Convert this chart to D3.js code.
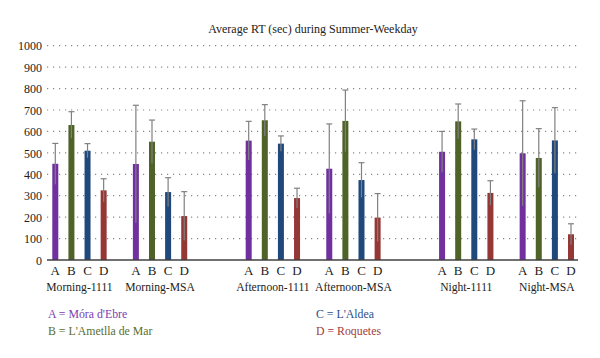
<!DOCTYPE html>
<html><head><meta charset="utf-8">
<script src="https://cdn.jsdelivr.net/npm/d3@7"></script>
<style>body{margin:0;background:#fff}svg{display:block}</style>
</head><body>
<svg id="c" width="600" height="358"></svg>
<script>
const title = "Average RT (sec) during Summer-Weekday";
const groups = ["Morning-1111","Morning-MSA","Afternoon-1111","Afternoon-MSA","Night-1111","Night-MSA"];
const series = ["A","B","C","D"];
const seriesNames = ["Móra d'Ebre","L'Ametlla de Mar","L'Aldea","Roquetes"];
const valuesA = [449, 448, 557, 426, 505, 498];
const valuesB = [630, 552, 652, 649, 647, 476];
const valuesC = [510, 317, 543, 373, 563, 558];
const valuesD = [325, 205, 289, 198, 313, 120];
const errA = [95, 274, 90, 209, 95, 245];
const errB = [62, 101, 73, 144, 81, 137];
const errC = [33, 67, 36, 81, 48, 153];
const errD = [54, 114, 46, 112, 57, 49];
const yTicks = [0,100,200,300,400,500,600,700,800,900,1000];

const values = [valuesA, valuesB, valuesC, valuesD];
const errs = [errA, errB, errC, errD];
const colors = ["#7030a0","#4f6228","#1f497d","#953735"];
const textColors = ["#7a3db0","#5a6e2e","#2a4f8a","#a33a3a"];
const FONT = '"Liberation Serif"';

const svg = d3.select("#c");

// layout: groups paired by period, unit = one bar slot
const slot = (gi, si) => Math.floor(gi/2)*12 + (gi%2)*5 + (si - 1.5);
const x = d3.scaleLinear().domain([-1.5, 29 + 1.5]).range([55.3, 571]);
const y = d3.scaleLinear().domain([0, 1000]).range([260, 45.7]);
const bw = 6;
const axL = 47, axR = 578;

svg.append("text").attr("x", 313).attr("y", 33).attr("text-anchor","middle")
  .style("font-family", FONT).attr("font-size", 12).attr("fill","#222").text(title);

// grid
svg.append("g").selectAll("line").data(yTicks.filter(d=>d>0)).join("line")
  .attr("x1", axL).attr("x2", axR).attr("y1", d=>y(d)).attr("y2", d=>y(d))
  .attr("stroke","#888").attr("stroke-width",1.2).attr("stroke-dasharray","1.2,4.8");

// y axis labels
const yAxis = d3.axisLeft(y).tickValues(yTicks).tickFormat(d3.format("d")).tickSize(0).tickPadding(0);
const ya = svg.append("g").attr("transform",`translate(42,0)`).call(yAxis);
ya.select(".domain").remove();
ya.attr("font-family", null);
ya.selectAll("text").style("font-family", FONT).attr("font-size", 12).attr("fill","#222").attr("dy","0.35em");

// bars
const barData = [];
groups.forEach((g, gi) => series.forEach((s, si) => {
  barData.push({g, gi, s, si, v: values[si][gi], e: errs[si][gi]});
}));

svg.append("g").selectAll("rect").data(barData).join("rect")
  .attr("x", d => x(slot(d.gi, d.si)) - bw/2)
  .attr("width", bw)
  .attr("y", d => y(d.v))
  .attr("height", d => y(0) - y(d.v))
  .attr("fill", d => colors[d.si]);

// error bars
const eg = svg.append("g").attr("stroke","#808080").attr("stroke-width",1.2);
barData.forEach(d => {
  const cx = x(slot(d.gi, d.si));
  eg.append("line").attr("x1",cx).attr("x2",cx).attr("y1",y(d.v + d.e)).attr("y2",y(Math.max(0,d.v - d.e)));
  eg.append("line").attr("x1",cx-3).attr("x2",cx+3).attr("y1",y(d.v + d.e)).attr("y2",y(d.v + d.e));
});

// x axis line
svg.append("line").attr("x1",axL).attr("x2",axR).attr("y1",y(0)).attr("y2",y(0))
  .attr("stroke","#404040").attr("stroke-width",1.5);

// letter labels
svg.append("g").selectAll("text").data(barData).join("text")
  .attr("x", d => x(slot(d.gi, d.si))).attr("y", 275)
  .attr("text-anchor","middle").style("font-family", FONT).attr("font-size", 13).attr("fill","#222")
  .text(d => d.s);

// group labels
svg.append("g").selectAll("text").data(groups).join("text")
  .attr("x", (d,i) => x(slot(i, 1.5))).attr("y", 291)
  .attr("text-anchor","middle").style("font-family", FONT).attr("font-size", 11.6).attr("fill","#222")
  .text(d => d);

// legend
const legPos = [[48,318],[48,335],[316,318],[316,335]];
svg.append("g").selectAll("text").data(series).join("text")
  .attr("x", (d,i) => legPos[i][0]).attr("y", (d,i) => legPos[i][1])
  .style("font-family", FONT).attr("font-size", 11.8).attr("fill", (d,i) => textColors[i])
  .text((d,i) => `${d} = ${seriesNames[i]}`);
</script>
</body></html>
